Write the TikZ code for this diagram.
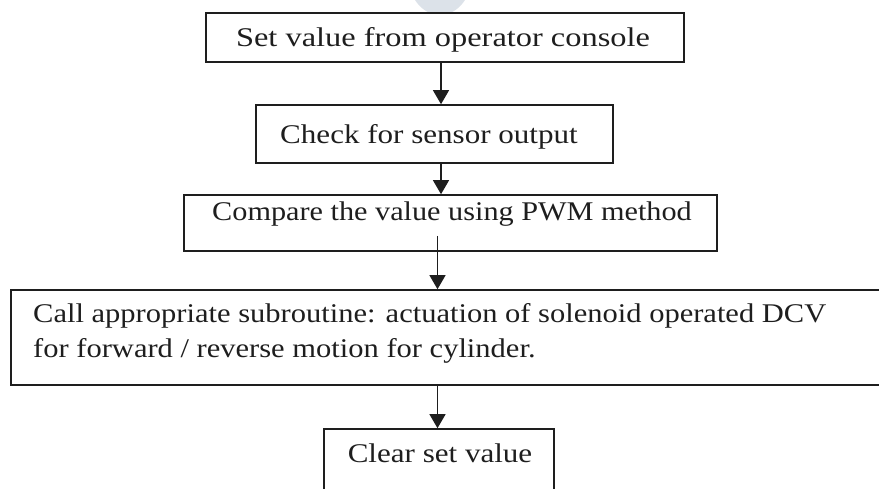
\documentclass[tikz,border=0pt]{standalone}
\usepackage{fontspec}
\setmainfont{Liberation Serif}
\usetikzlibrary{arrows.meta}
\definecolor{ink}{HTML}{1E1E1E}
\definecolor{wm}{HTML}{DCE2E9}
\newcommand{\sx}[2]{\scalebox{#1}[1]{#2}}
\begin{document}
\begin{tikzpicture}[x=1pt,y=-1pt,
  boxnode/.style={draw=ink,line width=1.6pt,inner sep=0pt,fill=white},
  txt/.style={inner sep=0pt,anchor=base,text=ink,font=\fontsize{27}{33}\selectfont},
  txtl/.style={inner sep=0pt,anchor=base west,text=ink,font=\fontsize{27}{33}\selectfont},
  arr/.style={draw=ink,line width=1.2pt,-{Triangle[width=16pt,length=14pt]}}]
\clip (0,0) rectangle (879,489);
\fill[white] (0,0) rectangle (879,489);
% faint watermark shape at top
\fill[wm] (440,-25) ellipse [x radius=32, y radius=40];
% boxes
\node[boxnode,minimum width=478pt,minimum height=49pt] (b1) at (445,37.5) {};
\node[boxnode,minimum width=357pt,minimum height=58pt] (b2) at (434.5,134) {};
\node[boxnode,minimum width=533pt,minimum height=56pt] (b3) at (450.5,223) {};
\node[boxnode,minimum width=889pt,minimum height=95pt] (b4) at (455.5,337.5) {};
\node[boxnode,minimum width=230pt,minimum height=80pt] (b5) at (439,469) {};
% texts
\node[txt] (t1) at (443,47) {\sx{1.2}{Set value from operator console}};
\node[txt] (t2) at (429,144) {\sx{1.15}{Check for sensor output}};
\node[txt] (t3) at (452,221) {\sx{1.12}{Compare the value using PWM method}};
\node[txtl] (t4a) at (33,323) {\sx{1.13}{Call appropriate subroutine: actuation of solenoid operated DCV}};
\node[txtl] (t4b) at (33,358) {\sx{1.13}{for forward / reverse motion for cylinder.}};
\node[txt] (t5) at (440,462) {\sx{1.15}{Clear set value}};
% connectors
\coordinate (ax) at (441,0);
\coordinate (bx) at (437.5,0);
\coordinate (s3) at (437.5,236);
\draw[arr] (b1.south -| ax) -- (b2.north -| ax);
\draw[arr] (b2.south -| ax) -- (b3.north -| ax);
\draw[arr] (s3) -- (b4.north -| bx);
\draw[arr] (b4.south -| bx) -- (b5.north -| bx);
\end{tikzpicture}
\end{document}
